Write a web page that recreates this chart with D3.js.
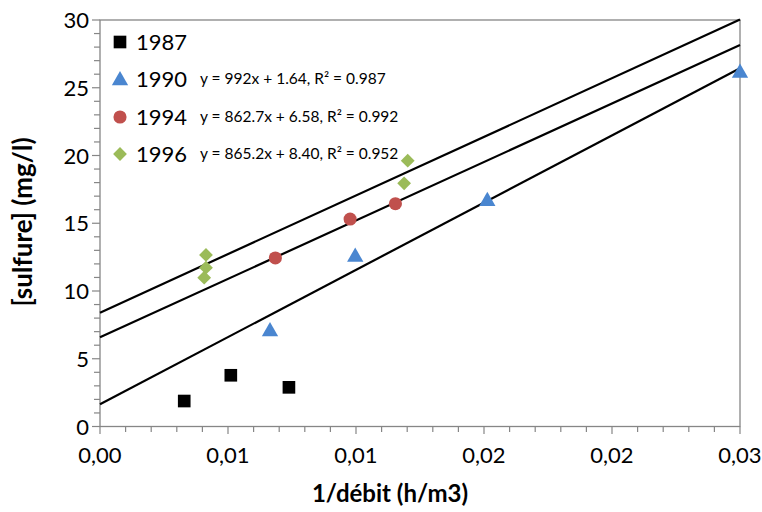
<!DOCTYPE html>
<html><head><meta charset="utf-8">
<script src="https://cdn.jsdelivr.net/npm/d3@7"></script>
<style>body{margin:0;background:#fff}svg{display:block}</style>
</head><body>
<svg id="c" width="762" height="512"></svg>
<script>
const years = ["1987","1990","1994","1996"];
const s1987 = [[0.00329,1.88],[0.00511,3.78],[0.00738,2.89]];
const s1990 = [[0.00664,7.12],[0.00997,12.62],[0.01513,16.74],[0.025,26.2]];
const s1994 = [[0.00685,12.44],[0.00977,15.31],[0.01154,16.44]];
const s1996 = [[0.00414,12.66],[0.00414,11.72],[0.00407,10.98],[0.01188,17.95],[0.01202,19.62]];
const fits = {"1990":[992,1.64],"1994":[862.7,6.58],"1996":[865.2,8.40]};
const fitLabels = {"1990":"y = 992x + 1.64, R² = 0.987","1994":"y = 862.7x + 6.58, R² = 0.992","1996":"y = 865.2x + 8.40, R² = 0.952"};
const xTicks = [0,0.005,0.01,0.015,0.02,0.025];
const xTickLabels = ["0,00","0,01","0,01","0,02","0,02","0,03"];
const yTicks = [0,5,10,15,20,25,30];

const font = "Lato, 'Open Sans', sans-serif";
const svg = d3.select("#c");
const x = d3.scaleLinear().domain([0,0.025]).range([100,740]);
const y = d3.scaleLinear().domain([0,30]).range([426.5,20]);
const axisCol = "#868686";
const colors = {"1987":"#000000","1990":"#4A86D0","1994":"#C0504D","1996":"#9BBB59"};
const series = {"1987":s1987,"1990":s1990,"1994":s1994,"1996":s1996};
const shapes = {"1987":d3.symbolSquare,"1990":d3.symbolTriangle,"1994":d3.symbolCircle,"1996":d3.symbolSquare};
const sizes = {"1987":160,"1990":115,"1994":135,"1996":95};
const rot = {"1987":0,"1990":0,"1994":0,"1996":45};
const dy = {"1987":0,"1990":1.5,"1994":0,"1996":0};

// frame
svg.append("rect").attr("x",100).attr("y",20).attr("width",640).attr("height",406.5)
  .attr("fill","none").attr("stroke",axisCol).attr("stroke-width",1.3);

// ticks
const gx = svg.append("g");
d3.range(0,26).forEach(i=>{
  const px=x(i*0.001); const major = i%5===0;
  gx.append("line").attr("x1",px).attr("x2",px).attr("y1",426.5).attr("y2",major?434:432)
    .attr("stroke",axisCol).attr("stroke-width",1.2);
});
d3.range(0,31).forEach(i=>{
  const py=y(i); const major=i%5===0;
  gx.append("line").attr("x1",major?92:94).attr("x2",100).attr("y1",py).attr("y2",py)
    .attr("stroke",axisCol).attr("stroke-width",1.2);
});
xTicks.forEach((t,i)=>{
  svg.append("text").attr("x",x(t)).attr("y",463).attr("text-anchor","middle")
    .attr("font-family",font).attr("font-size",22).attr("fill","#000").text(xTickLabels[i]);
});
yTicks.forEach(t=>{
  svg.append("text").attr("x",89).attr("y",y(t)+8).attr("text-anchor","end")
    .attr("font-family",font).attr("font-size",22).attr("fill","#000").text(t);
});
svg.append("text").attr("x",390).attr("y",502).attr("text-anchor","middle")
  .attr("font-family",font).attr("font-size",24).attr("font-weight","bold").text("1/débit (h/m3)");
svg.append("text").attr("transform","translate(32,222) rotate(-90)").attr("text-anchor","middle")
  .attr("font-family",font).attr("font-size",26).attr("font-weight","bold").text("[sulfure] (mg/l)");

// trend lines
Object.keys(fits).forEach(k=>{
  const [m,b]=fits[k];
  svg.append("line").attr("x1",x(0)).attr("y1",y(b)).attr("x2",x(0.025)).attr("y2",y(m*0.025+b))
    .attr("stroke","#000").attr("stroke-width",2.2);
});

// points
years.forEach(k=>{
  const sym = d3.symbol().type(shapes[k]).size(sizes[k]);
  svg.append("g").selectAll("path").data(series[k]).join("path")
    .attr("d",sym).attr("fill",colors[k])
    .attr("transform",d=>`translate(${x(d[0])},${y(d[1]) + dy[k]}) rotate(${rot[k]})`);
});

// legend
const legY = {"1987":42,"1990":79,"1994":117,"1996":154};
years.forEach(k=>{
  const sym = d3.symbol().type(shapes[k]).size(sizes[k]);
  svg.append("path").attr("d",sym).attr("fill",colors[k])
    .attr("transform",`translate(120,${legY[k] + dy[k]}) rotate(${rot[k]})`);
  svg.append("text").attr("x",136).attr("y",legY[k]+8).attr("font-family",font)
    .attr("font-size",22).text(k);
  if (fitLabels[k]) svg.append("text").attr("x",200).attr("y",legY[k]+5).attr("font-family",font)
    .attr("font-size",15.5).text(fitLabels[k]);
});
</script>
</body></html>
